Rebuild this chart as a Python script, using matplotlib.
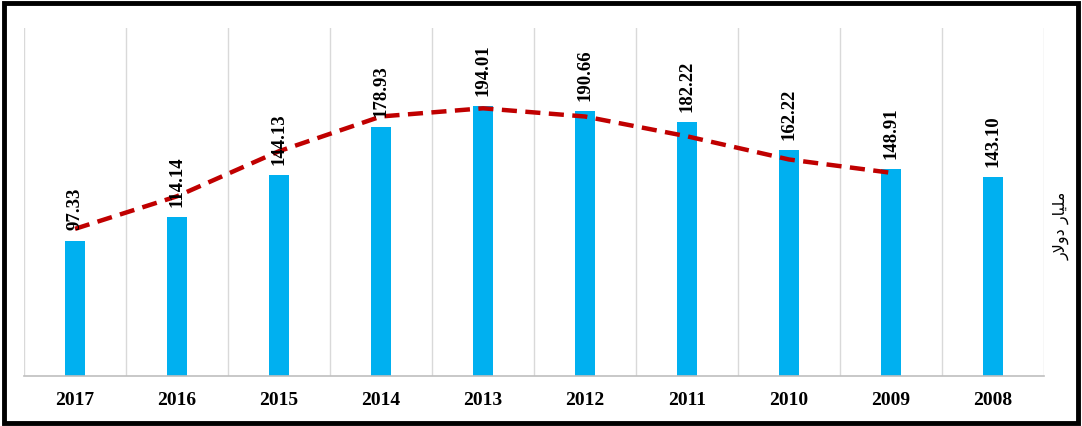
import numpy as np
import pandas as pd
import matplotlib
matplotlib.use("Agg")
import matplotlib.pyplot as plt
from matplotlib.patches import Rectangle

years = ["2017", "2016", "2015", "2014", "2013", "2012", "2011", "2010", "2009", "2008"]
values = [97.33, 114.14, 144.13, 178.93, 194.01, 190.66, 182.22, 162.22, 148.91, 143.10]
ylabel = "\uFEAD\uFEFB\uFEED\uFEA9 \uFEAD\uFE8E\uFEF4\uFEE0\uFEE3"  # مليار دولار (pre-shaped)

# 2-period moving average trendline (chronological order, drawn 2009..2017)
chron = pd.Series(values[::-1])
ma = chron.rolling(2).mean().values[::-1]

fig = plt.figure(figsize=(10.82, 4.27), dpi=100)
ax = fig.add_axes([0.0222, 0.117, 0.9427, 0.815])

x = np.arange(len(years))
ax.bar(x, values, width=0.19, color="#00B0F0", zorder=2)
ax.plot(x[:-1], ma[:-1], color="#C00000", lw=3.2, ls=(0, (3.4, 1.9)), zorder=3)

for xi, v in zip(x, values):
    ax.annotate(f"{v:.2f}", (xi, v), xytext=(0, 8), textcoords="offset points",
                rotation=90, ha="center", va="bottom", fontsize=13.5,
                fontweight="bold", family="Liberation Serif", zorder=4)

ax.set_xlim(-0.5, len(years) - 0.5)
ax.set_ylim(0, 250)
ax.set_xticks(x)
ax.set_xticklabels(years, fontsize=14, fontweight="bold", family="Liberation Serif")
ax.tick_params(axis="x", length=0, pad=11)
ax.set_yticks([])
for b in np.arange(-0.5, len(years), 1.0):
    ax.axvline(b, color="#D9D9D9", lw=1, zorder=1)
for s in ["top", "left", "right"]:
    ax.spines[s].set_visible(False)
ax.spines["bottom"].set_color("#BFBFBF")
ax.spines["bottom"].set_linewidth(1.2)

fig.text(0.981, 0.47, ylabel, rotation=90, ha="center", va="center",
         fontsize=11.5, family="DejaVu Sans")

fig.patches.append(Rectangle((0.004, 0.008), 0.992, 0.982, transform=fig.transFigure,
                             fill=False, edgecolor="black", lw=3.5))

plt.savefig("out.png", dpi=100)
